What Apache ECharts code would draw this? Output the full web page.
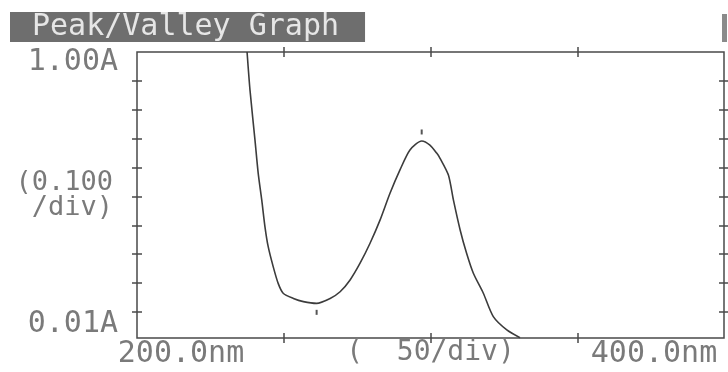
<!DOCTYPE html>
<html>
<head>
<meta charset="utf-8">
<script src="https://cdn.jsdelivr.net/npm/echarts@6/dist/echarts.min.js"></script>
<style>
  html, body { margin: 0; padding: 0; background: #ffffff; }
  #peakValley { width: 728px; height: 372px; }
</style>
</head>
<body>
<div id="peakValley"></div>
<script>
// wavelength (nm) and absorbance (A)
const wavelengths = [237.5, 238.5, 240.2, 241.3, 242.5, 243.6, 244.7, 246.4, 248.1, 249.8,
  253.3, 256.7, 261.2, 265.8, 269.2, 272.6, 276.0, 279.4, 282.8, 286.2,
  289.6, 293.0, 297.0, 299.8, 302.1, 303.2, 306.1, 307.8, 310.1, 312.3,
  314.6, 318.0, 321.4, 326.0, 330.5];
const absorbance = [1.00, 0.868, 0.695, 0.580, 0.488, 0.395, 0.326, 0.257, 0.199, 0.165,
  0.147, 0.136, 0.130, 0.147, 0.170, 0.211, 0.269, 0.338, 0.418, 0.511,
  0.592, 0.661, 0.692, 0.678, 0.650, 0.633, 0.574, 0.488, 0.384, 0.303,
  0.234, 0.165, 0.084, 0.038, 0.011];
const peakPoint = [297.0, 0.692];
const valleyPoint = [261.2, 0.130];

const xLabelValues = [200, 400];
const xTickValues = [250, 300, 350];
const yLabelValues = [0.01, 1.00];
const yTickValues = [0.1, 0.2, 0.3, 0.4, 0.5, 0.6, 0.7, 0.8, 0.9];

const font = 'DejaVu Sans Mono';
const textGray = '#7a7a7a';
const lineGray = '#4a4a4a';

const curve = wavelengths.map((w, i) => [w, absorbance[i]]);

const tickStyle = { show: true, inside: false, length: 10, lineStyle: { color: lineGray, width: 1.5 } };

let option = {
  backgroundColor: '#ffffff',
  animation: false,
  title: {
    text: 'Peak/Valley Graph',
    left: 10,
    top: 12,
    padding: [0, 26, 0, 22],
    backgroundColor: '#6e6e6e',
    textStyle: {
      color: '#e6e6e6',
      fontFamily: font,
      fontSize: 30,
      fontWeight: 'normal',
      lineHeight: 30
    }
  },
  graphic: [
    { type: 'rect', left: 722, top: 14, shape: { width: 5, height: 28 }, style: { fill: '#8a8a8a' } }
  ],
  grid: {
    left: 137, right: 4, top: 52, bottom: 34,
    containLabel: false,
    outerBoundsMode: 'none',
    show: true,
    borderColor: lineGray,
    borderWidth: 1.5
  },
  xAxis: [
    {
      type: 'value',
      position: 'bottom',
      min: 200, max: 400,
      offset: -5,
      name: '(  50/div)',
      nameLocation: 'middle',
      nameGap: 6,
      nameMoveOverlap: false,
      nameTextStyle: { color: textGray, fontFamily: font, fontSize: 28, verticalAlign: 'top' },
      axisLine: { show: false },
      splitLine: { show: false },
      axisTick: Object.assign({ customValues: xTickValues }, tickStyle),
      axisLabel: {
        customValues: xLabelValues,
        margin: 6,
        color: textGray,
        fontFamily: font,
        fontSize: 30,
        formatter: v => (v === xLabelValues[0] ? '{l|' : '{r|') + v.toFixed(1) + 'nm}',
        rich: {
          l: { color: textGray, fontFamily: font, fontSize: 30, padding: [0, 0, 0, 88] },
          r: { color: textGray, fontFamily: font, fontSize: 30, padding: [0, 140, 0, 0] }
        }
      }
    },
    {
      type: 'value',
      position: 'top',
      min: 200, max: 400,
      offset: -5,
      axisLine: { show: false },
      splitLine: { show: false },
      axisLabel: { show: false },
      axisTick: Object.assign({ customValues: xTickValues }, tickStyle)
    }
  ],
  yAxis: [
    {
      type: 'value',
      position: 'left',
      min: 0.01, max: 1.00,
      offset: -5,
      name: '(0.100\n/div)',
      nameLocation: 'middle',
      nameRotate: 0,
      nameGap: 29,
      nameMoveOverlap: false,
      nameTextStyle: { color: textGray, fontFamily: font, fontSize: 27, lineHeight: 25, align: 'right' },
      axisLine: { show: false },
      splitLine: { show: false },
      axisTick: Object.assign({ customValues: yTickValues }, tickStyle),
      axisLabel: {
        customValues: yLabelValues,
        margin: 24,
        color: textGray,
        fontFamily: font,
        fontSize: 30,
        formatter: v => (v === yLabelValues[1] ? '{t|' : '{b|') + v.toFixed(2) + 'A}',
        rich: {
          t: { color: textGray, fontFamily: font, fontSize: 30, padding: [20, 0, 0, 0] },
          b: { color: textGray, fontFamily: font, fontSize: 30, padding: [0, 0, 28, 0] }
        }
      }
    },
    {
      type: 'value',
      position: 'right',
      min: 0.01, max: 1.00,
      offset: -5,
      axisLine: { show: false },
      splitLine: { show: false },
      axisLabel: { show: false },
      axisTick: Object.assign({ customValues: yTickValues }, tickStyle)
    }
  ],
  series: [
    {
      name: 'Absorbance',
      type: 'line',
      data: curve,
      showSymbol: false,
      symbol: 'none',
      smooth: 0.25,
      clip: true,
      lineStyle: { color: '#3c3c3c', width: 1.6 },
      markPoint: {
        symbol: 'rect',
        symbolSize: [2, 5],
        label: { show: false },
        itemStyle: { color: '#555555' },
        data: [
          { coord: peakPoint, symbolOffset: [0, -9] },
          { coord: valleyPoint, symbolOffset: [0, 9] }
        ]
      }
    }
  ]
};

const chart = echarts.init(document.getElementById('peakValley'));
chart.setOption(option);
</script>
</body>
</html>
